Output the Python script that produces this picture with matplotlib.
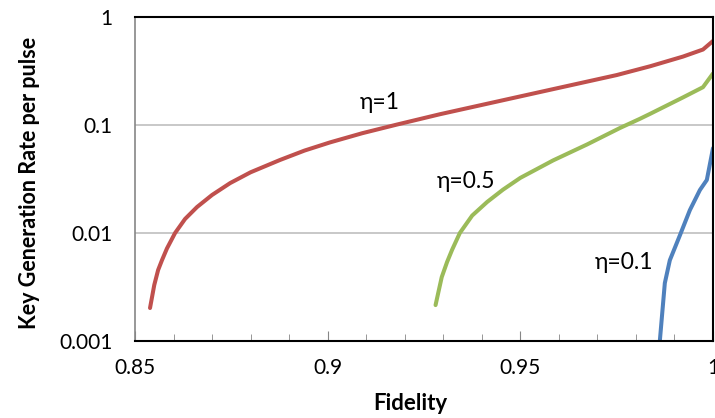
import matplotlib
matplotlib.use('Agg')
import matplotlib.pyplot as plt
from matplotlib.ticker import MultipleLocator, FixedLocator, FixedFormatter

# values
fid_eta1 = [0.8539, 0.855, 0.856, 0.857, 0.8583, 0.8604, 0.863, 0.8661, 0.870, 0.8747,
            0.880, 0.8876, 0.894, 0.9006, 0.909, 0.918, 0.9292, 0.9551, 0.975,
            0.9837, 0.9922, 0.9974, 1.0]
rate_eta1 = [0.00202, 0.0033, 0.00454, 0.0056, 0.0072, 0.01, 0.0135, 0.0174, 0.0225, 0.029,
             0.0365, 0.0474, 0.058, 0.069, 0.084, 0.101, 0.126, 0.202, 0.29,
             0.35, 0.43, 0.5, 0.6]

fid_eta05 = [0.928, 0.9288, 0.9296, 0.931, 0.9323, 0.9343, 0.9375, 0.9414, 0.9455, 0.95,
             0.9585, 0.9673, 0.9759, 0.981, 0.9837, 0.9922, 0.9974, 1.0]
rate_eta05 = [0.00215, 0.0029, 0.0039, 0.0054, 0.007, 0.01, 0.0145, 0.0194, 0.0252, 0.0324,
              0.047, 0.066, 0.094, 0.114, 0.127, 0.18, 0.224, 0.3]

fid_eta01 = [0.9862, 0.9875, 0.9888, 0.9914, 0.994, 0.9966, 0.9984, 1.0]
rate_eta01 = [0.001, 0.00344, 0.0056, 0.0095, 0.0163, 0.025, 0.031, 0.061]

y_ticks = [0.001, 0.01, 0.1, 1]
y_labels = ['0.001', '0.01', '0.1', '1']
x_ticks = [0.85, 0.9, 0.95, 1.0]
x_labels = ['0.85', '0.9', '0.95', '1']

plt.rcParams['font.family'] = ['Lato', 'DejaVu Sans']

fig = plt.figure(figsize=(7.15, 4.18), dpi=100)
ax = fig.add_axes([0.1888, 0.1842, 0.8084, 0.7751])

ax.plot(fid_eta1, rate_eta1, color='#C0504D', lw=2.9, solid_capstyle='round',
        solid_joinstyle='round')
ax.plot(fid_eta05, rate_eta05, color='#9BBB59', lw=2.9, solid_capstyle='round',
        solid_joinstyle='round')
ax.plot(fid_eta01, rate_eta01, color='#4F81BD', lw=2.9, solid_capstyle='round',
        solid_joinstyle='round')

ax.set_yscale('log')
ax.set_xlim(0.85, 1.0)
ax.set_ylim(0.001, 1)

ax.yaxis.set_major_locator(FixedLocator(y_ticks))
ax.yaxis.set_major_formatter(FixedFormatter(y_labels))
ax.yaxis.set_minor_locator(FixedLocator([]))
ax.xaxis.set_major_locator(FixedLocator(x_ticks))
ax.xaxis.set_major_formatter(FixedFormatter(x_labels))
ax.xaxis.set_minor_locator(MultipleLocator(0.01))

ax.grid(axis='y', which='major', color='#BFBFBF', lw=1.2)
ax.set_axisbelow(True)

ax.tick_params(axis='x', which='major', direction='in', length=7, color='#868686',
               labelsize=15, pad=12)
ax.tick_params(axis='x', which='minor', direction='in', length=5, color='#868686')
ax.tick_params(axis='y', which='major', length=0, labelsize=15, pad=16)

for side in ['top', 'right', 'bottom']:
    ax.spines[side].set_color('black')
    ax.spines[side].set_linewidth(1.5)
ax.spines['left'].set_color('#868686')
ax.spines['left'].set_linewidth(1.2)

ax.set_xlabel('Fidelity', fontsize=16, fontweight='bold')
ax.set_ylabel('Key Generation Rate per pulse', fontsize=15.5, fontweight='bold')
ax.xaxis.set_label_coords(0.476, -0.16)
ax.yaxis.set_label_coords(-0.164, 0.488)

ax.text(0.9136, 0.163, 'η=1', fontsize=16.5, ha='center', va='center')
ax.text(0.9359, 0.0297, 'η=0.5', fontsize=16.5, ha='center', va='center')
ax.text(0.9769, 0.00538, 'η=0.1', fontsize=16.5, ha='center', va='center')

fig.savefig('out.png', dpi=100)
